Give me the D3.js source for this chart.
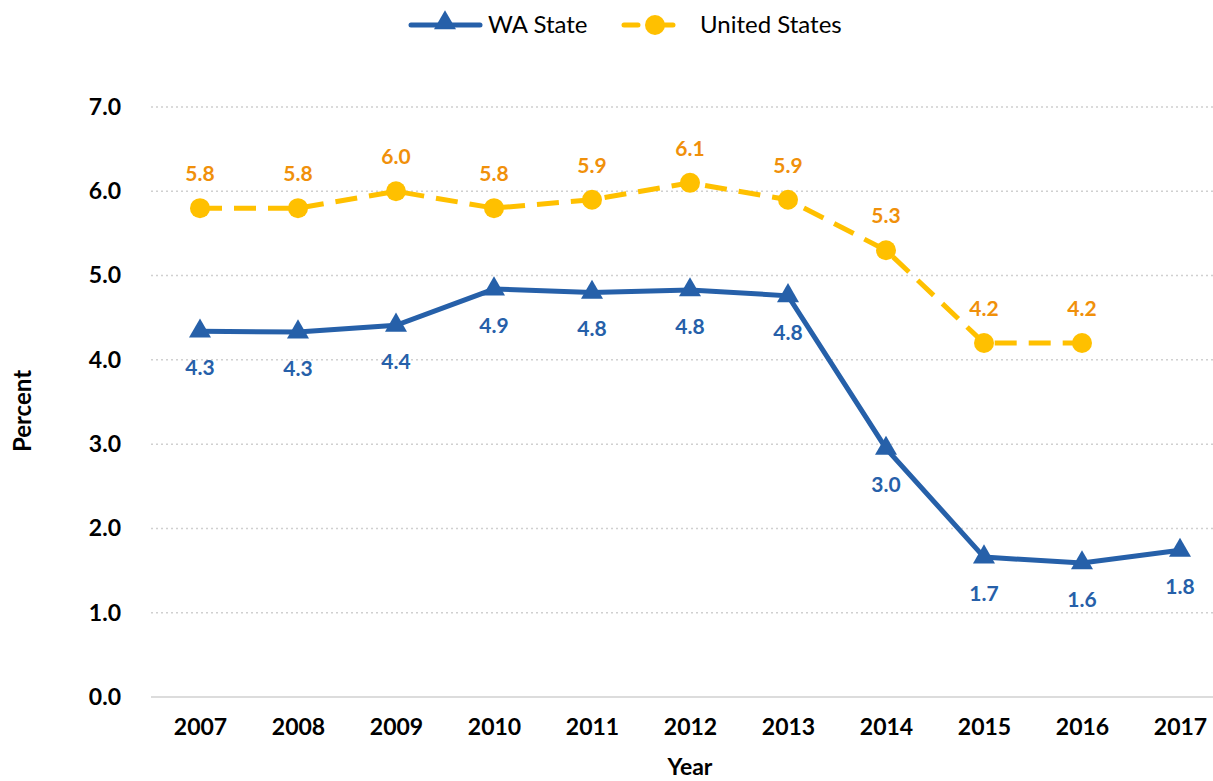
<!DOCTYPE html>
<html>
<head>
<meta charset="utf-8">
<script src="https://cdn.jsdelivr.net/npm/d3@7"></script>
<style>
  body { margin: 0; background: #fff; }
  text { font-family: Lato, "Open Sans", sans-serif; }
</style>
</head>
<body>
<div id="chart"></div>
<script>
// data
var years = ["2007", "2008", "2009", "2010", "2011", "2012", "2013", "2014", "2015", "2016", "2017"];
var waState = [4.34, 4.33, 4.41, 4.84, 4.80, 4.83, 4.76, 2.95, 1.66, 1.59, 1.74];
var waLabels = ["4.3", "4.3", "4.4", "4.9", "4.8", "4.8", "4.8", "3.0", "1.7", "1.6", "1.8"];
var usValues = [5.8, 5.8, 6.0, 5.8, 5.9, 6.1, 5.9, 5.3, 4.2, 4.2, null];
var usLabels = ["5.8", "5.8", "6.0", "5.8", "5.9", "6.1", "5.9", "5.3", "4.2", "4.2", ""];
var yTicks = [0, 1, 2, 3, 4, 5, 6, 7];

var blue = "#2660a9", yellow = "#ffc000", orange = "#f0900a";

var W = 1213, H = 781;
var svg = d3.select("#chart").append("svg")
    .attr("width", W)
    .attr("height", H);

var x = d3.scalePoint()
  .domain(years)
  .range([151, 1229])
  .padding(0.5);

var y = d3.scaleLinear()
  .domain([0, 7])
  .range([697, 107]);

// gridlines
svg.append("g").selectAll("line")
  .data(yTicks)
  .enter().append("line")
    .attr("x1", 151)
    .attr("x2", W)
    .attr("y1", function(d) { return y(d); })
    .attr("y2", function(d) { return y(d); })
    .attr("stroke", "#d0d0d0")
    .attr("stroke-width", 1.5)
    .attr("stroke-dasharray", function(d) { return d === 0 ? null : "2,3"; });

// y axis
var yAxis = svg.append("g")
  .attr("transform", "translate(140,0)")
  .call(d3.axisLeft(y).tickValues(yTicks).tickFormat(d3.format(".1f")).tickSize(0).tickPadding(0));
yAxis.select(".domain").remove();
yAxis.selectAll("text")
  .style("font-family", "Lato, sans-serif")
  .style("font-size", "23px")
  .style("font-weight", "bold")
  .attr("fill", "#000")
  .attr("x", -19);

// x axis
var xAxis = svg.append("g")
  .attr("transform", "translate(0,719)")
  .call(d3.axisBottom(x).tickSize(0).tickPadding(0));
xAxis.select(".domain").remove();
xAxis.selectAll("text")
  .style("font-family", "Lato, sans-serif")
  .style("font-size", "23px")
  .style("font-weight", "bold")
  .attr("fill", "#000");

// axis titles
svg.append("text")
  .attr("transform", "translate(31,411) rotate(-90)")
  .attr("text-anchor", "middle")
  .style("font-size", "24px")
  .style("font-weight", "bold")
  .text("Percent");

svg.append("text")
  .attr("x", 690)
  .attr("y", 775)
  .attr("text-anchor", "middle")
  .style("font-size", "23px")
  .style("font-weight", "bold")
  .text("Year");

// US line (dashed)
var usPts = years.map(function(d, i) { return {year: d, v: usValues[i], label: usLabels[i]}; })
  .filter(function(d) { return d.v !== null; });
var line = d3.line()
  .x(function(d) { return x(d.year); })
  .y(function(d) { return y(d.v); });

svg.append("path")
  .datum(usPts)
  .attr("d", line)
  .attr("fill", "none")
  .attr("stroke", yellow)
  .attr("stroke-width", 5)
  .attr("stroke-dasharray", "22,12");

svg.append("g").selectAll("circle")
  .data(usPts)
  .enter().append("circle")
    .attr("cx", function(d) { return x(d.year); })
    .attr("cy", function(d) { return y(d.v); })
    .attr("r", 10)
    .attr("fill", yellow);

svg.append("g").selectAll("text")
  .data(usPts)
  .enter().append("text")
    .attr("x", function(d) { return x(d.year); })
    .attr("y", function(d) { return y(d.v) - 27; })
    .attr("text-anchor", "middle")
    .style("font-size", "21px")
    .style("font-weight", "bold")
    .attr("fill", orange)
    .text(function(d) { return d.label; });

// WA line
var waPts = years.map(function(d, i) { return {year: d, v: waState[i], label: waLabels[i]}; });
svg.append("path")
  .datum(waPts)
  .attr("d", line)
  .attr("fill", "none")
  .attr("stroke", blue)
  .attr("stroke-width", 5);

var tri = d3.symbol().type(d3.symbolTriangle).size(210);
svg.append("g").selectAll("path")
  .data(waPts)
  .enter().append("path")
    .attr("d", tri)
    .attr("transform", function(d) { return "translate(" + x(d.year) + "," + y(d.v) + ")"; })
    .attr("fill", blue);

svg.append("g").selectAll("text")
  .data(waPts)
  .enter().append("text")
    .attr("x", function(d) { return x(d.year); })
    .attr("y", function(d) { return y(d.v) + 44; })
    .attr("text-anchor", "middle")
    .style("font-size", "21px")
    .style("font-weight", "bold")
    .attr("fill", blue)
    .text(function(d) { return d.label; });

// legend
var leg = svg.append("g");
leg.append("line").attr("x1", 411).attr("x2", 480).attr("y1", 25).attr("y2", 25)
  .attr("stroke", blue).attr("stroke-width", 5).attr("stroke-linecap", "round");
leg.append("path").attr("d", tri).attr("transform", "translate(445,23)").attr("fill", blue);
leg.append("text").attr("x", 488).attr("y", 33).style("font-size", "24px").text("WA State");

leg.append("line").attr("x1", 624).attr("x2", 685).attr("y1", 25).attr("y2", 25)
  .attr("stroke", yellow).attr("stroke-width", 5).attr("stroke-linecap", "round")
  .attr("stroke-dasharray", "14,21");
leg.append("circle").attr("cx", 655).attr("cy", 25).attr("r", 10).attr("fill", yellow);
leg.append("text").attr("x", 700).attr("y", 33).style("font-size", "24px").text("United States");
</script>
</body>
</html>
